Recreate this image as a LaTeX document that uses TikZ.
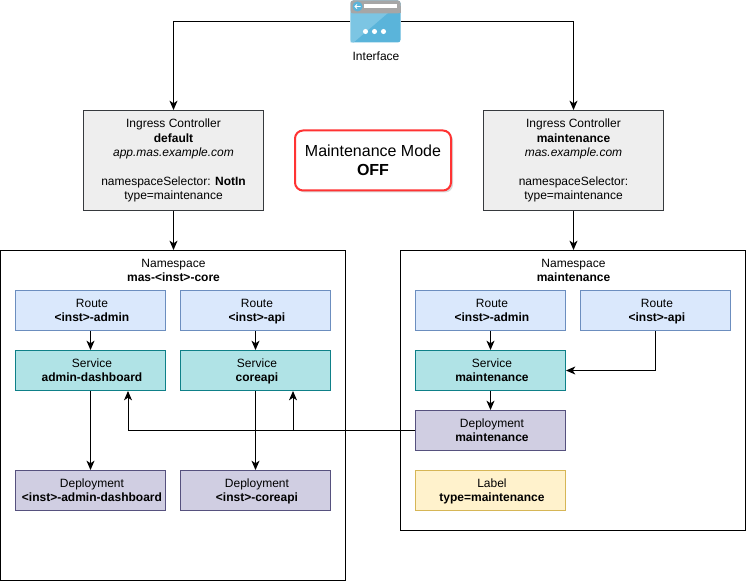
\documentclass[tikz,border=0pt]{standalone}
\usepackage{fontspec}
\setmainfont{Liberation Sans}
\usetikzlibrary{arrows, arrows.meta, shadows}
\definecolor{routefill}{HTML}{DAE8FC}
\definecolor{routeline}{HTML}{6C8EBF}
\definecolor{svcfill}{HTML}{B0E3E6}
\definecolor{svcline}{HTML}{0E8088}
\definecolor{depfill}{HTML}{D0CEE2}
\definecolor{depline}{HTML}{56517E}
\definecolor{labelfill}{HTML}{FFF2CC}
\definecolor{labelline}{HTML}{D6B656}
\definecolor{ingfill}{HTML}{EEEEEE}
\definecolor{ingline}{HTML}{36393D}
\definecolor{modeline}{HTML}{FF3333}
\definecolor{iconblue}{HTML}{5AB4DA}
\definecolor{iconlight}{HTML}{7CC5E3}
\definecolor{icongray}{HTML}{A6A6A6}
\newcommand{\twolines}[2]{\hspace*{2.2pt}\raisebox{0pt}[\dimexpr\height+1.8pt\relax][\depth]{\begin{tabular}{@{}c@{}}#1\\\textbf{#2}\end{tabular}}}
\tikzset{
  box/.style={draw, line width=0.75pt, inner sep=0pt, font=\fontsize{9}{10.8}\selectfont},
  smallbox/.style={box, minimum width=112.5pt, minimum height=30pt},
  routebox/.style={smallbox, fill=routefill, draw=routeline},
  svcbox/.style={smallbox, fill=svcfill, draw=svcline},
  depbox/.style={smallbox, fill=depfill, draw=depline},
  labelbox/.style={smallbox, fill=labelfill, draw=labelline},
  ingbox/.style={box, align=center, fill=ingfill, draw=ingline, minimum width=135pt, minimum height=75pt},
  nsbox/.style={box, draw=black, fill=white, minimum width=258.75pt},
  nstitle/.style={inner sep=0pt, align=center, font=\fontsize{9}{10.8}\selectfont},
  link/.style={draw=black, line width=0.75pt, -{Stealth[length=7pt,width=6pt,inset=2pt]}},
}
\begin{document}
\begin{tikzpicture}[x=0.75pt,y=-0.75pt]
\useasboundingbox (-0.5,-0.5) rectangle (746.5,580.5);
% namespaces
\node[nsbox, minimum height=247.5pt] (nsleft) at (172.5,415) {};
\node[nsbox, minimum height=210pt] (nsright) at (572.5,390) {};
\node[nstitle] (nslefttitle) at (173,270) {Namespace\\\textbf{mas-<inst>-core}};
\node[nstitle] (nsrighttitle) at (573,270) {Namespace\\\textbf{maintenance}};
% interface icon
\node[minimum width=37.5pt, minimum height=31.5pt, inner sep=0pt] (iface) at (375,21) {};
\fill[iconblue, rounded corners=2pt] (350,0) rectangle (400,42);
\fill[iconlight] (350,12) -- (388,12) -- (353,42) -- (350,42) -- cycle;
\fill[icongray, rounded corners=2pt] (350,0) rectangle (400,13);
\fill[icongray] (350,6) rectangle (400,13);
\fill[iconblue] (357,6) circle (3.75pt);
\fill[white] (363,4) rectangle (396,8);
\draw[white, line width=0.6pt] (360,6) -- (354.5,6) (356.5,4) -- (354.5,6) -- (356.5,8);
\fill[white] (365,31) circle (1.9pt);
\fill[white] (374,31) circle (1.9pt);
\fill[white] (383,31) circle (1.9pt);
\node[nstitle] (ifacetext) at (375.5,56) {Interface};
% ingress controllers
\node[ingbox] (ingleft) at (173,160) {Ingress Controller\\\textbf{default}\\\textit{app.mas.example.com}\\~\\namespaceSelector: \textbf{NotIn}\\type=maintenance};
\node[ingbox] (ingright) at (573,160) {Ingress Controller\\\textbf{maintenance}\\\textit{mas.example.com}\\~\\namespaceSelector:\\type=maintenance};
% mode flag
\node[box, align=center, draw=modeline, fill=white, line width=1.5pt, rounded corners=6pt, drop shadow={opacity=0.3, shadow xshift=1.5pt, shadow yshift=-1.5pt}, minimum width=117pt, minimum height=45pt, font=\fontsize{12}{14.4}\selectfont] (modeflag) at (372.5,160) {Maintenance Mode\\\textbf{OFF}};
% left namespace
\node[routebox] (routeadminl) at (90,310) {\twolines{Route}{<inst>-admin}};
\node[routebox] (routeapil) at (255,310) {\twolines{Route}{<inst>-api}};
\node[svcbox] (svcadmin) at (90,370) {\twolines{Service}{admin-dashboard}};
\node[svcbox] (svccore) at (255,370) {\twolines{Service}{coreapi}};
\node[depbox] (depadmin) at (90,490) {\twolines{Deployment}{<inst>-admin-dashboard}};
\node[depbox] (depcore) at (255,490) {\twolines{Deployment}{<inst>-coreapi}};
% right namespace
\node[routebox] (routeadminr) at (490,310) {\twolines{Route}{<inst>-admin}};
\node[routebox] (routeapir) at (655,310) {\twolines{Route}{<inst>-api}};
\node[svcbox] (svcmaint) at (490,370) {\twolines{Service}{maintenance}};
\node[depbox] (depmaint) at (490,430) {\twolines{Deployment}{maintenance}};
\node[labelbox] (typelabel) at (490,490) {\twolines{Label}{type=maintenance}};
% connectors
\draw[link] (iface.west) -| (ingleft.north);
\draw[link] (iface.east) -| (ingright.north);
\draw[link] (ingleft.south) -- (nsleft.north -| ingleft.south);
\draw[link] (ingright.south) -- (nsright.north -| ingright.south);
\draw[link] (routeadminl) -- (svcadmin);
\draw[link] (routeapil) -- (svccore);
\draw[link] (svcadmin) -- (depadmin);
\draw[link] (svccore) -- (depcore);
\draw[link] (routeadminr) -- (svcmaint);
\draw[link] (svcmaint) -- (depmaint);
\draw[link] (routeapir.south) |- (svcmaint.east);
\draw[link] (depmaint.west) -| ([xshift=28.125pt]svcadmin.south);
\draw[link] (depmaint.west) -| ([xshift=28.125pt]svccore.south);
\end{tikzpicture}
\end{document}
